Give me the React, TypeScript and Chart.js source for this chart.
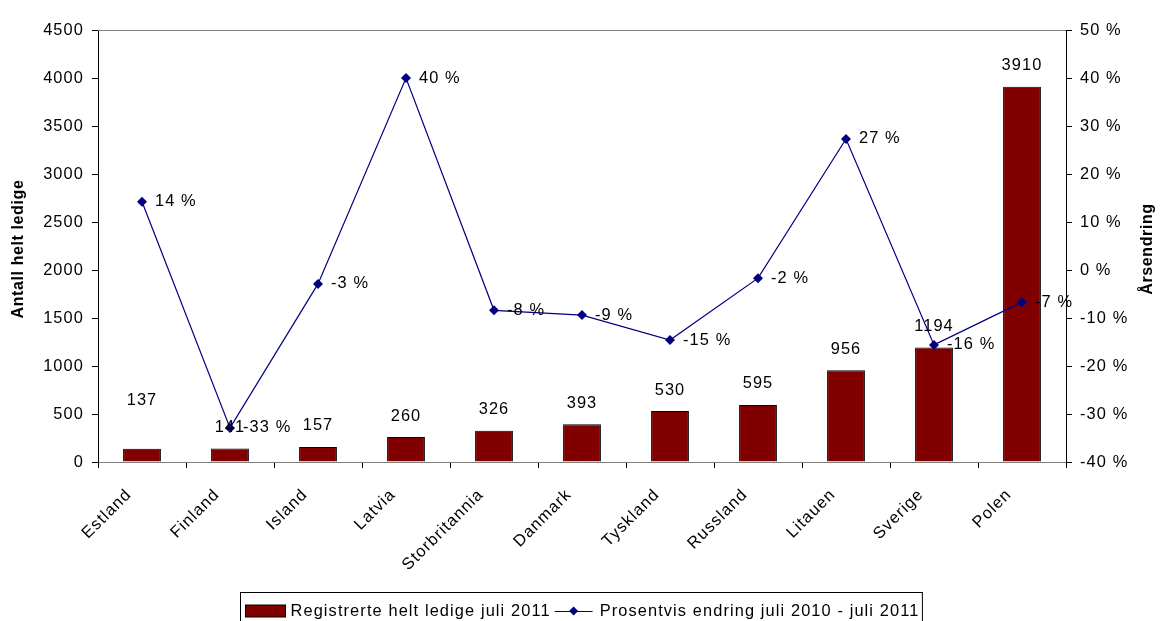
import React, { useEffect, useRef } from "react";
import { Chart, registerables } from "chart.js";

Chart.register(...registerables);

const categories = ["Estland", "Finland", "Island", "Latvia", "Storbritannia", "Danmark", "Tyskland", "Russland", "Litauen", "Sverige", "Polen"];
const ledige = [137, 141, 157, 260, 326, 393, 530, 595, 956, 1194, 3910];
const endring = [14.2, -32.9, -2.9, 40.0, -8.4, -9.4, -14.6, -1.7, 27.3, -15.6, -6.7];
const barLabel = "Registrerte helt ledige juli 2011";
const lineLabel = "Prosentvis endring juli 2010 - juli 2011";
const leftTitle = "Antall helt ledige";
const rightTitle = "Årsendring";

const FONT = "Arial, 'Liberation Sans', sans-serif";
const SPACING = "1.1px";
const BAR_COLOR = "#800000";
const LINE_COLOR = "#000080";

const setSpacing = (chart: any) => {
  (chart.ctx as any).letterSpacing = SPACING;
};

const customPlugin = {
  id: "custom",
  beforeLayout(chart: any) { setSpacing(chart); },
  beforeDraw(chart: any) { setSpacing(chart); },
  afterDraw(chart: any) {
    const ctx = chart.ctx;
    const area = chart.chartArea;
    ctx.save();
    (ctx as any).letterSpacing = SPACING;
    // top border of plot area
    ctx.strokeStyle = "#808080";
    ctx.lineWidth = 1;
    ctx.beginPath();
    ctx.moveTo(area.left, Math.round(area.top) + 0.5);
    ctx.lineTo(area.right, Math.round(area.top) + 0.5);
    ctx.stroke();

    ctx.fillStyle = "#000";
    ctx.font = `16.4px ${FONT}`;

    // x category labels (rotated 45°)
    const xs = chart.scales.x;
    ctx.textAlign = "right";
    ctx.textBaseline = "middle";
    categories.forEach((c, i) => {
      const cx = xs.getPixelForValue(i);
      ctx.save();
      ctx.translate(cx - 13, area.bottom + 30);
      ctx.rotate(-Math.PI / 4);
      ctx.fillText(c, 0, 0);
      ctx.restore();
    });

    // data labels
    const barMeta = chart.getDatasetMeta(0);
    ctx.textAlign = "center";
    ctx.textBaseline = "middle";
    barMeta.data.forEach((el: any, i: number) => {
      const extra = i === 0 ? 27 : 0;
      ctx.fillText(String(ledige[i]), el.x, el.y - 21 - extra);
    });
    const lineMeta = chart.getDatasetMeta(1);
    ctx.textAlign = "left";
    lineMeta.data.forEach((el: any, i: number) => {
      ctx.fillText(`${Math.round(endring[i])} %`, el.x + 13, el.y);
    });

    // axis titles
    ctx.font = `bold 16px ${FONT}`;
    (ctx as any).letterSpacing = "0.6px";
    ctx.textAlign = "center";
    const midY = (area.top + area.bottom) / 2 + 3;
    ctx.save();
    ctx.translate(19, midY);
    ctx.rotate(-Math.PI / 2);
    ctx.fillText(leftTitle, 0, 0);
    ctx.restore();
    ctx.save();
    ctx.translate(1148, midY);
    ctx.rotate(-Math.PI / 2);
    ctx.fillText(rightTitle, 0, 0);
    ctx.restore();

    // legend
    (ctx as any).letterSpacing = SPACING;
    ctx.font = `16.4px ${FONT}`;
    ctx.textAlign = "left";
    const w1 = ctx.measureText(barLabel).width;
    const w2 = ctx.measureText(lineLabel).width;
    const sw = 40;
    const lw = 38;
    const total = 5 + sw + 5 + w1 + 4 + lw + 7 + w2 + 3;
    const lx = Math.round(580.5 - total / 2) + 0.5;
    const ly = 592.5;
    ctx.strokeStyle = "#000";
    ctx.lineWidth = 1;
    ctx.strokeRect(lx, ly, total, 40);
    const cy = 611;
    let x = lx + 5;
    ctx.fillStyle = BAR_COLOR;
    ctx.fillRect(x, cy - 6, sw, 12);
    ctx.strokeRect(x, cy - 6, sw, 12);
    x += sw + 5;
    ctx.fillStyle = "#000";
    ctx.fillText(barLabel, x, cy);
    x += w1 + 4;
    ctx.strokeStyle = LINE_COLOR;
    ctx.beginPath();
    ctx.moveTo(x, cy + 0.5);
    ctx.lineTo(x + lw, cy + 0.5);
    ctx.stroke();
    ctx.fillStyle = LINE_COLOR;
    ctx.beginPath();
    const dx = x + lw / 2;
    ctx.moveTo(dx, cy - 4.5);
    ctx.lineTo(dx + 4.5, cy);
    ctx.lineTo(dx, cy + 4.5);
    ctx.lineTo(dx - 4.5, cy);
    ctx.closePath();
    ctx.fill();
    x += lw + 7;
    ctx.fillStyle = "#000";
    ctx.fillText(lineLabel, x, cy);
    ctx.restore();
  },
};

export default function App() {
  const ref = useRef<HTMLCanvasElement | null>(null);
  useEffect(() => {
    if (!ref.current) return;
    const chart = new Chart(ref.current, {
      type: "bar",
      data: {
        labels: categories,
        datasets: [
          {
            type: "bar",
            label: barLabel,
            data: ledige,
            backgroundColor: BAR_COLOR,
            borderColor: "#000",
            borderWidth: 1,
            barPercentage: 0.43,
            categoryPercentage: 1,
            yAxisID: "y",
            order: 2,
          },
          {
            type: "line",
            label: lineLabel,
            data: endring,
            borderColor: LINE_COLOR,
            backgroundColor: LINE_COLOR,
            borderWidth: 1.2,
            pointStyle: "rectRot",
            pointRadius: 5,
            pointBorderWidth: 0,
            tension: 0,
            yAxisID: "y1",
            order: 1,
          } as any,
        ],
      },
      options: {
        animation: false,
        responsive: false,
        layout: { padding: { top: 30, bottom: 31, left: 0, right: 0 } },
        plugins: { legend: { display: false }, tooltip: { enabled: false } },
        scales: {
          x: {
            offset: true,
            grid: { offset: true, drawOnChartArea: false, drawTicks: true, tickLength: 6, color: "#000" },
            border: { display: true, color: "#808080" },
            ticks: { display: false, autoSkip: false },
            afterFit: (s: any) => { s.height = 128; },
          },
          y: {
            position: "left",
            min: 0,
            max: 4500,
            ticks: { stepSize: 500, color: "#000", font: { size: 16.4, family: FONT }, padding: 8, callback: (v: any) => String(v) },
            grid: { drawOnChartArea: false, tickLength: 6, color: "#000" },
            border: { display: true, color: "#000" },
            afterFit: (s: any) => { s.width = 98; },
          },
          y1: {
            position: "right",
            min: -40,
            max: 50,
            ticks: { stepSize: 10, color: "#000", font: { size: 16.4, family: FONT }, padding: 8, callback: (v: any) => `${v} %` },
            grid: { drawOnChartArea: false, tickLength: 6, color: "#000" },
            border: { display: true, color: "#000" },
            afterFit: (s: any) => { s.width = 94; },
          },
        },
      },
      plugins: [customPlugin],
    });
    return () => chart.destroy();
  }, []);
  return (
    <div style={{ position: "fixed", left: 0, top: 0, width: 1160, height: 621, background: "#fff" }}>
      <canvas ref={ref} width={1160} height={621} style={{ width: 1160, height: 621 }} />
    </div>
  );
}
